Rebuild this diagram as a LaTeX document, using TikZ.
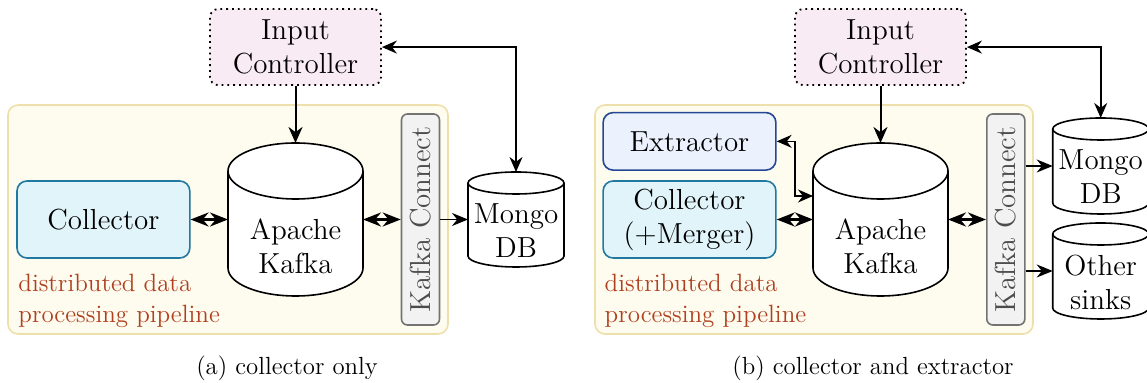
\documentclass[tikz,border=0pt]{standalone}
\usepackage{tikz}
\usetikzlibrary{shapes,arrows.meta,positioning,calc}
\definecolor{ctrlpink}{RGB}{249,235,243}
\definecolor{pipeyellow}{RGB}{254,251,239}
\definecolor{pipeborder}{RGB}{238,224,172}
\definecolor{collcyan}{RGB}{224,244,250}
\definecolor{collblue}{RGB}{33,120,160}
\definecolor{extblue}{RGB}{235,241,253}
\definecolor{extnavy}{RGB}{37,72,148}
\definecolor{connfill}{RGB}{242,242,242}
\definecolor{conngray}{RGB}{115,115,115}
\definecolor{pipered}{RGB}{175,64,32}

% drum outline round a named node: name, x radius, y radius
\newcommand{\drawdrum}[3]{%
  \draw[line width=0.8pt, fill=white] ([yshift=-#3]#1.north west) -- ([yshift=#3]#1.south west)
    arc[start angle=180, end angle=360, x radius=#2, y radius=#3]
    -- ([yshift=-#3]#1.north east)
    arc[start angle=0, end angle=180, x radius=#2, y radius=#3] -- cycle;
  \draw[line width=0.8pt] ([yshift=-#3]#1.north west)
    arc[start angle=180, end angle=360, x radius=#2, y radius=#3];
}

\begin{document}
\begin{tikzpicture}[x=0.5pt, y=-0.5pt,
    every node/.style={font=\fontsize{14.5}{17}\selectfont},
    ctrl/.style={draw, dotted, line width=0.9pt, rounded corners=4pt, fill=ctrlpink, minimum width=85.5pt, minimum height=38pt, align=center, inner sep=1pt},
    pipe/.style={draw=pipeborder, line width=0.8pt, rounded corners=5pt, fill=pipeyellow},
    worker/.style={draw=collblue, line width=0.8pt, rounded corners=5pt, fill=collcyan, minimum width=86.4pt, minimum height=38.5pt, align=center, inner sep=1pt},
    store/.style={rectangle, inner sep=0pt, outer sep=0pt},
    storetext/.style={align=center, inner sep=0pt},
    conn/.style={draw=conngray, line width=0.8pt, rounded corners=3pt, fill=connfill, minimum width=19pt, minimum height=105.5pt, inner sep=0pt, text=black!70},
    pipelabel/.style={anchor=north west, inner sep=0pt, align=left, text=pipered, font=\fontsize{12.5}{15.6}\selectfont},
    subcap/.style={anchor=base, inner sep=0pt, font=\fontsize{12.4}{14}\selectfont},
    flow/.style={-{Stealth[length=8pt,width=7pt]}, line width=1pt},
    twoway/.style={{Stealth[length=9pt,width=7pt]}-{Stealth[length=9pt,width=7pt]}, line width=1.2pt},
    sinkflow/.style={-{Stealth[length=8pt,width=6.5pt]}, line width=0.6pt},
    ctrlback/.style={{Stealth[length=7.5pt,width=6.5pt]}-{Stealth[length=7.5pt,width=6.5pt]}, line width=0.8pt},
]
    \useasboundingbox (0,0) rectangle (1147,383);

    % (a) collector only
    \path[pipe] (8,105) rectangle (448,334);
    \node [store, minimum width=67.5pt, minimum height=76.5pt] (kafka1) at (295.5,219.5) {};
    \drawdrum{kafka1}{33.75pt}{14pt}
    \node [storetext] (kafka1txt) at ([yshift=-13.5pt]kafka1.center) {Apache\\Kafka};
    \node [ctrl, above=28.5pt of kafka1] (ic1) {Input\\Controller};
    \node [worker, left=18.7pt of kafka1] (coll1) {Collector};
    \node [conn, right=18.85pt of kafka1] (kc1) {\rotatebox{90}{Kafka Connect}};
    \node [store, minimum width=48pt, minimum height=47.5pt, right=13.85pt of kc1] (mongo1) {};
    \drawdrum{mongo1}{24pt}{5.5pt}
    \node [storetext] (mongo1txt) at ([yshift=-5.5pt]mongo1.center) {Mongo\\DB};
    \node [pipelabel] (lab1) at (18,274) {distributed data\\processing pipeline};
    \node [subcap] (cap1) at (287,375) {(a) collector only};

    \draw [flow] (ic1) -- (kafka1);
    \draw [twoway] (coll1) -- (kafka1);
    \draw [twoway] (kafka1) -- (kc1);
    \draw [sinkflow] (kc1) -- (mongo1);
    \draw [ctrlback] (mongo1.north) |- (ic1.east);

    % (b) collector and extractor
    \path[pipe] (595,105) rectangle (1033,334);
    \node [store, minimum width=67.5pt, minimum height=76.5pt] (kafka2) at (880.5,219.5) {};
    \drawdrum{kafka2}{33.75pt}{14pt}
    \node [storetext] (kafka2txt) at ([yshift=-13.5pt]kafka2.center) {Apache\\Kafka};
    \node [ctrl, above=28.5pt of kafka2] (ic2) {Input\\Controller};
    \node [worker, left=18.15pt of kafka2] (coll2) {Collector\\(+Merger)};
    \node [worker, draw=extnavy, fill=extblue, minimum height=28.75pt, above=4.65pt of coll2] (ext) {Extractor};
    \node [conn, right=19pt of kafka2] (kc2) {\rotatebox{90}{Kafka Connect}};
    \node [store, minimum width=48pt, minimum height=48pt] (mongo2) at (1100.7,166) {};
    \drawdrum{mongo2}{24pt}{5.5pt}
    \node [storetext] (mongo2txt) at ([yshift=-5.5pt]mongo2.center) {Mongo\\DB};
    \node [store, minimum width=48pt, minimum height=48pt, below=4.5pt of mongo2] (sinks) {};
    \drawdrum{sinks}{24pt}{5.5pt}
    \node [storetext] (sinkstxt) at ([yshift=-5.5pt]sinks.center) {Other\\sinks};
    \node [pipelabel] (lab2) at (604.3,274) {distributed data\\processing pipeline};
    \node [subcap] (cap2) at (873,375) {(b) collector and extractor};

    \draw [flow] (ic2) -- (kafka2);
    \draw [twoway] (coll2) -- (kafka2);
    \draw [sinkflow, {Stealth[length=7.5pt,width=6.5pt]}-{Stealth[length=7.5pt,width=6.5pt]}] (ext.east) -- ++(18.3,0) |- ([yshift=11.75pt]kafka2.west);
    \draw [twoway] (kafka2) -- (kc2);
    \draw [sinkflow] (mongo2.west -| kc2.east) -- (mongo2.west);
    \draw [sinkflow] (sinks.west -| kc2.east) -- (sinks.west);
    \draw [ctrlback] (mongo2.north) |- (ic2.east);
\end{tikzpicture}
\end{document}
